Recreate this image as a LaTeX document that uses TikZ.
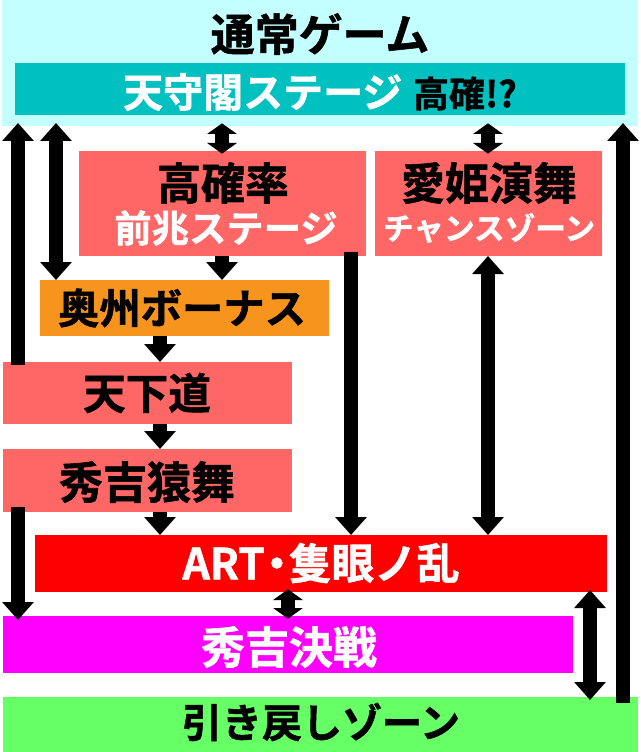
\documentclass[tikz,border=0pt]{standalone}
\usepackage{fontspec}
\setmainfont{Noto Sans CJK JP}[UprightFont=* Bold, UprightFeatures={FakeBold=1.2}]
\usetikzlibrary{arrows.meta,calc}
\definecolor{cyanL}{HTML}{C4FFFF}
\definecolor{tealB}{HTML}{00C0C0}
\definecolor{salmon}{HTML}{FF6666}
\definecolor{orangeB}{HTML}{F7941D}
\definecolor{redB}{HTML}{FF0000}
\definecolor{magB}{HTML}{FF00FF}
\definecolor{greenB}{HTML}{66FF66}
\newcommand\fsz[1]{\fontsize{#1pt}{#1pt}\selectfont}
\begin{document}
\begin{tikzpicture}[x=0.75pt,y=-0.75pt,
  box/.style={draw=none,inner sep=0pt,outer sep=0pt},
  bw/.style={minimum width=#1*0.75pt},
  bh/.style={minimum height=#1*0.75pt},
  txt/.style={inner sep=0pt,outer sep=0pt},
  arr/.style={line width=10.5pt,-{Triangle[width=23pt,length=13.5pt]}},
  darr/.style={line width=10.5pt,{Triangle[width=23pt,length=13.5pt]}-{Triangle[width=23pt,length=13.5pt]}},
  sdarr/.style={line width=10.5pt,{Triangle[width=22pt,length=8pt]}-{Triangle[width=22pt,length=8pt]},shorten <=-2pt,shorten >=-2pt}]
\useasboundingbox (0,0) rectangle (640,752);
% boxes
\node[box,fill=cyanL,bw=636,bh=126] (tsujo) at (320,63) {};
\node[box,fill=tealB,bw=610,bh=52] (teal) at (320,89) {};
\node[box,fill=salmon,bw=287,bh=105] (hk) at (222.5,203.5) {};
\node[box,fill=salmon,bw=227,bh=105] (ai) at (488.5,203.5) {};
\node[box,fill=orangeB,bw=289,bh=56] (oshu) at (184.5,308) {};
\node[box,fill=salmon,bw=289,bh=62] (tenka) at (147.5,393) {};
\node[box,fill=salmon,bw=289,bh=63] (saru) at (147.5,480.5) {};
\node[box,fill=redB,bw=572,bh=57] (art) at (321,563.5) {};
\node[box,fill=magB,bw=570,bh=57] (kessen) at (288,644.5) {};
\node[box,fill=greenB,bw=635,bh=55] (modoshi) at (320.5,724.5) {};
% columns
\coordinate (x1) at (18,0);
\coordinate (x2) at (56,0);
\coordinate (x3) at (222,0);
\coordinate (x4) at (488,0);
\coordinate (x5) at (623,0);
\coordinate (x6) at (351,0);
\coordinate (x7) at (160,0);
\coordinate (x8) at (288,0);
\coordinate (x9) at (590,0);
% arrows
\draw[arr] ($(x1 |- tenka.north)+(0,3)$) -- ($(x1 |- tsujo.south)+(0,-3)$);
\draw[darr] ($(x2 |- tsujo.south)+(0,-3)$) -- (x2 |- oshu.north);
\draw[sdarr] (x3 |- tsujo.south) -- (x3 |- hk.north);
\draw[sdarr] (x4 |- tsujo.south) -- (x4 |- ai.north);
\draw[arr] ($(x5 |- modoshi.north)+(0,6)$) -- ($(x5 |- tsujo.south)+(0,-3)$);
\draw[arr] (x3 |- hk.south) -- (x3 |- oshu.north);
\draw[arr] (x7 |- oshu.south) -- (x7 |- tenka.north);
\draw[arr] (x7 |- tenka.south) -- (x7 |- saru.north);
\draw[arr] (x7 |- saru.south) -- (x7 |- art.north);
\draw[arr] ($(x6 |- hk.south)+(0,-4)$) -- (x6 |- art.north);
\draw[darr] (x4 |- ai.south) -- (x4 |- art.north);
\draw[arr] ($(x1 |- saru.south)+(0,-5)$) -- ($(x1 |- kessen.north)+(0,4)$);
\draw[sdarr] (x8 |- art.south) -- (x8 |- kessen.north);
\draw[darr] ($(x9 |- art.south)+(0,-2)$) -- ($(x9 |- modoshi.north)+(0,3)$);
% texts
\node[txt,font=\fsz{33}] (tsujot) at (320,34) {通常ゲーム};
\node[txt] (tealt) at (320,92) {{\color{white}\fsz{30}天守閣ステージ}\hspace{8pt}{\fsz{27}高確!?}};
\node[txt,font=\fsz{33}] (hkt1) at (223,183) {高確率};
\node[txt,font=\fsz{28},text=white] (hkt2) at (226,228) {前兆ステージ};
\node[txt,font=\fsz{33}] (ait1) at (489,183) {愛姫演舞};
\node[txt,font=\fsz{23},text=white] (ait2) at (489,228) {チャンスゾーン};
\node[txt,font=\fsz{31}] (oshut) at (182,308) {奥州ボーナス};
\node[txt,font=\fsz{32}] (tenkat) at (147,393) {天下道};
\node[txt,font=\fsz{33}] (sarut) at (147,482) {秀吉猿舞};
\node[txt,font=\fsz{32},text=white] (artt) at (321,563) {ART\hspace{-7pt}・\hspace{-7pt}隻眼ノ乱};
\node[txt,font=\fsz{33},text=white] (kessent) at (289,647) {秀吉決戦};
\node[txt,font=\fsz{30}] (modoshit) at (321,722) {引き戻しゾーン};
\end{tikzpicture}
\end{document}
